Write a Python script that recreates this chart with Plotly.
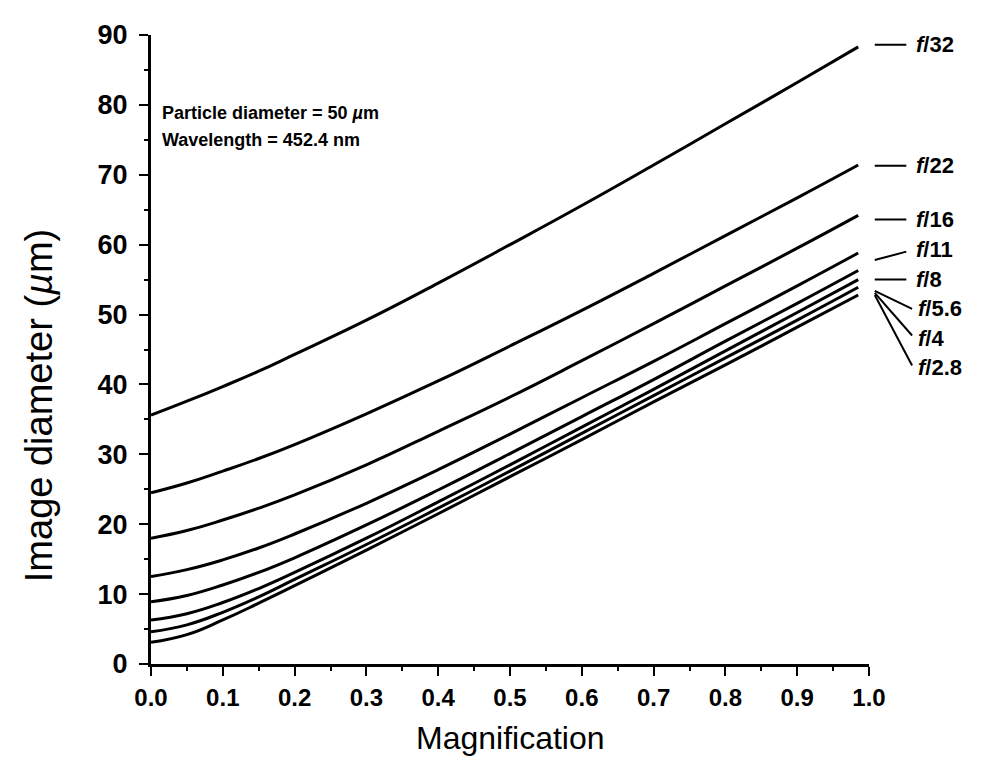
import plotly.graph_objects as go

# ---------------- data ----------------
magnification = [0.0, 0.05, 0.1, 0.15, 0.2, 0.3, 0.4, 0.5, 0.6, 0.7, 0.8, 0.9, 0.985]

diam_f32 = [35.6, 37.6, 39.7, 41.9, 44.3, 49.2, 54.5, 60.0, 65.6, 71.4, 77.3, 83.2, 88.3]
diam_f22 = [24.5, 25.9, 27.6, 29.4, 31.4, 35.8, 40.5, 45.5, 50.6, 55.9, 61.3, 66.7, 71.4]
diam_f16 = [18.0, 19.1, 20.6, 22.3, 24.2, 28.5, 33.3, 38.2, 43.4, 48.7, 54.1, 59.5, 64.2]
diam_f11 = [12.5, 13.5, 14.9, 16.6, 18.6, 23.0, 27.8, 32.9, 38.1, 43.3, 48.7, 54.1, 58.8]
diam_f8 = [8.9, 9.8, 11.3, 13.1, 15.2, 19.9, 24.9, 30.1, 35.4, 40.7, 46.2, 51.6, 56.3]
diam_f56 = [6.3, 7.2, 8.8, 10.8, 13.1, 18.0, 23.2, 28.5, 33.9, 39.3, 44.8, 50.3, 55.0]
diam_f4 = [4.6, 5.6, 7.4, 9.6, 12.1, 17.1, 22.3, 27.6, 33.0, 38.4, 43.8, 49.2, 53.9]
diam_f28 = [3.1, 4.2, 6.3, 8.7, 11.2, 16.3, 21.5, 26.8, 32.1, 37.5, 42.8, 48.2, 52.8]

series = [diam_f32, diam_f22, diam_f16, diam_f11, diam_f8, diam_f56, diam_f4, diam_f28]
f_labels = ["32", "22", "16", "11", "8", "5.6", "4", "2.8"]

x_ticks = [0.0, 0.1, 0.2, 0.3, 0.4, 0.5, 0.6, 0.7, 0.8, 0.9, 1.0]
x_ticktext = ["0.0", "0.1", "0.2", "0.3", "0.4", "0.5", "0.6", "0.7", "0.8", "0.9", "1.0"]
y_ticks = [0, 10, 20, 30, 40, 50, 60, 70, 80, 90]

# ---------------- figure ----------------
FONT = "Liberation Sans, Arial, Helvetica, sans-serif"
fig = go.Figure()

for vals, lab in zip(series, f_labels):
    fig.add_trace(go.Scatter(
        x=magnification, y=vals, mode="lines", name="f/" + lab,
        line=dict(color="black", width=3, shape="spline", smoothing=1.3),
        showlegend=False, hoverinfo="skip"))

# leader lines on the right: (start value, end value, label value)
leaders = [
    (88.6, 88.6, 88.6),
    (71.3, 71.3, 71.3),
    (63.6, 63.6, 63.6),
    (57.8, 59.0, 59.3),
    (55.0, 55.0, 55.0),
    (53.4, 50.8, 50.8),
    (53.1, 47.0, 46.6),
    (52.8, 42.7, 42.4),
]
x0p, x1p = 1.008, 1.052
for (ys, ye, yt), lab in zip(leaders, f_labels):
    angled = abs(ys - ye) > 2
    x1 = x1p + 0.008 if angled else x1p
    fig.add_shape(type="line", xref="paper", yref="paper",
                  x0=x0p, x1=x1, y0=ys / 90.0, y1=ye / 90.0,
                  line=dict(color="black", width=2))
    fig.add_annotation(xref="paper", yref="paper", x=1.066 if angled else 1.062,
                       y=yt / 90.0,
                       text="<b><i>f</i>/" + lab + "</b>", showarrow=False,
                       xanchor="left", yanchor="middle",
                       font=dict(family=FONT, size=22, color="black"))

fig.add_annotation(xref="paper", yref="paper", x=0.012, y=78.9 / 90.0,
                   text="<b>Particle diameter = 50 <i>\u00b5</i>m</b>",
                   showarrow=False, xanchor="left", yanchor="middle",
                   font=dict(family=FONT, size=18, color="black"))
fig.add_annotation(xref="paper", yref="paper", x=0.012, y=75.0 / 90.0,
                   text="<b>Wavelength = 452.4 nm</b>",
                   showarrow=False, xanchor="left", yanchor="middle",
                   font=dict(family=FONT, size=18, color="black"))

# axis titles
fig.add_annotation(xref="paper", yref="paper", x=-0.155, y=0.411,
                   text="Image diameter (<i>\u00b5</i>m)", textangle=-90,
                   showarrow=False, xanchor="center", yanchor="middle",
                   font=dict(family=FONT, size=38, color="black"))
fig.add_annotation(xref="paper", yref="paper", x=0.50, y=-0.118,
                   text="Magnification",
                   showarrow=False, xanchor="center", yanchor="middle",
                   font=dict(family=FONT, size=32, color="black"))

fig.update_layout(
    width=985, height=766,
    margin=dict(l=143, r=124, t=20, b=110, pad=0),
    paper_bgcolor="white", plot_bgcolor="white",
    font=dict(family=FONT, color="black"),
    showlegend=False,
)

fig.update_xaxes(
    range=[0, 1.0], tickvals=x_ticks, ticktext=x_ticktext,
    showgrid=False, zeroline=False,
    showline=True, linecolor="black", linewidth=3,
    ticks="outside", ticklen=9, tickwidth=2, tickcolor="black",
    minor=dict(dtick=0.05, ticks="outside", ticklen=4, tickwidth=2, tickcolor="black"),
    tickfont=dict(family=FONT, size=24, color="black", weight="bold"),
    ticklabelstandoff=1,
)
fig.update_yaxes(
    range=[0, 90], tickvals=y_ticks,
    showgrid=False, zeroline=False,
    showline=True, linecolor="black", linewidth=3,
    ticks="outside", ticklen=9, tickwidth=2, tickcolor="black",
    minor=dict(dtick=5, ticks="outside", ticklen=4, tickwidth=2, tickcolor="black"),
    tickfont=dict(family=FONT, size=27, color="black", weight="bold"),
    ticklabelstandoff=6,
)

fig.write_html("out.html")
